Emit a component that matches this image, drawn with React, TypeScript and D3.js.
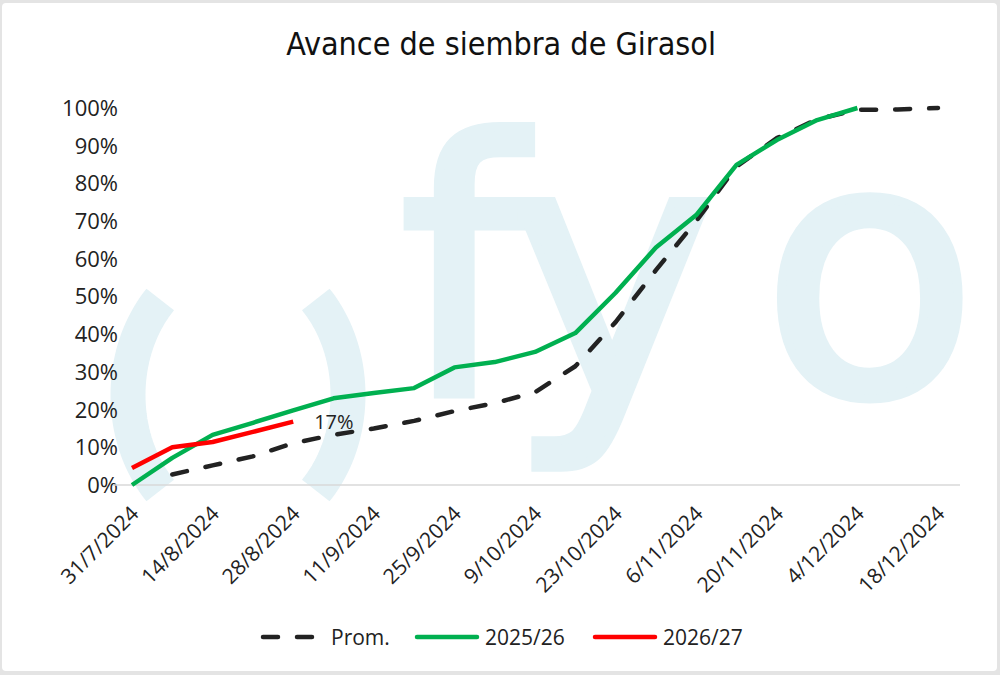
import React from 'react';
import * as d3 from 'd3';

// weekly observations, 31/7/2024 .. 18/12/2024
const weeks = [
  '2024-07-31', '2024-08-07', '2024-08-14', '2024-08-21', '2024-08-28', '2024-09-04', '2024-09-11',
  '2024-09-18', '2024-09-25', '2024-10-02', '2024-10-09', '2024-10-16', '2024-10-23', '2024-10-30',
  '2024-11-06', '2024-11-13', '2024-11-20', '2024-11-27', '2024-12-04', '2024-12-11', '2024-12-18',
];

// % sembrado
const prom = [null, 2.8, 5.2, 7.6, 11.1, 13.3, 15.0, 17.0, 19.6, 21.7, 24.6, 31.5, 43.2, 57.0, 70.0, 84.5, 92.0, 97.0, 99.5, 99.6, 100];
const s2025 = [0, 7.2, 13.3, 16.5, 19.8, 23.0, 24.4, 25.7, 31.2, 32.6, 35.3, 40.3, 51.0, 63.0, 71.6, 84.9, 91.5, 96.8, 100, null, null];
const s2026 = [4.5, 10.0, 11.4, 14.1, 16.8, null, null, null, null, null, null, null, null, null, null, null, null, null, null, null, null];

const tickDates = [
  '2024-07-31', '2024-08-14', '2024-08-28', '2024-09-11', '2024-09-25', '2024-10-09',
  '2024-10-23', '2024-11-06', '2024-11-20', '2024-12-04', '2024-12-18',
];
const yTicks = [0, 10, 20, 30, 40, 50, 60, 70, 80, 90, 100];

const series = [
  { name: 'Prom.', values: prom, color: '#222222', dash: '15 19' },
  { name: '2025/26', values: s2025, color: '#00b050', dash: null },
  { name: '2026/27', values: s2026, color: '#ff0000', dash: null },
];

const W = 1000;
const H = 675;
const FONT = '"Open Sans", "Noto Sans", sans-serif';
const WM = '#e4f2f6';

const parse = d3.timeParse('%Y-%m-%d');
const fmt = d3.timeFormat('%-d/%-m/%Y');

export default function App() {
  const x = d3.scaleTime()
    .domain([parse(weeks[0])!, parse(weeks[weeks.length - 1])!])
    .range([132, 938]);
  const y = d3.scaleLinear().domain([0, 100]).range([485, 108]);

  const line = d3.line<number | null>()
    .defined(d => d != null)
    .x((_, i) => x(parse(weeks[i])!))
    .y(d => y(d as number));

  // watermark parentheses (logo)
  const cx = 238, cy = 395, rx = 110, ry = 135;
  const arcPath = (a0: number, a1: number) => {
    const pts = d3.range(0, 41).map(k => {
      const a = (a0 + (a1 - a0) * k / 40) * Math.PI / 180;
      return [cx + rx * Math.cos(a), cy + ry * Math.sin(a)] as [number, number];
    });
    return d3.line()(pts) || '';
  };

  const lastRedIdx = s2026.reduce((acc, v, i) => (v != null ? i : acc), 0);
  const legendItems = [
    { ...series[0], lx: 263 },
    { ...series[1], lx: 417 },
    { ...series[2], lx: 595 },
  ];

  return (
    <svg width={W} height={H} style={{ position: 'absolute', left: 0, top: 0 }} fontFamily={FONT}>
      <rect x={0} y={0} width={W} height={H} fill="#e4e4e4" />
      <rect x={2} y={3} width={W - 5} height={H - 7} rx={4} fill="#ffffff" />

      {/* watermark */}
      <g>
        <path d={arcPath(135, 225)} fill="none" stroke={WM} strokeWidth={35} />
        <path d={arcPath(-45, 45)} fill="none" stroke={WM} strokeWidth={35} />
        <text y={394} fontFamily="DejaVu Sans" fontSize={352} fill={WM} stroke={WM} strokeWidth={9}>
          <tspan x={400}>f</tspan>
          <tspan x={508}>y</tspan>
          <tspan x={762}>o</tspan>
        </text>
      </g>

      <text x={501} y={55} textAnchor="middle" fontFamily='"Liberation Sans Narrow", "DejaVu Sans Condensed", sans-serif'
        fontSize={32} fill="#111">Avance de siembra de Girasol</text>

      {/* y axis labels */}
      {yTicks.map(t => (
        <text key={t} x={118} y={y(t)} dy="0.36em" textAnchor="end" fontSize={22} fill="#222">{t}%</text>
      ))}

      {/* baseline */}
      <line x1={113} x2={960} y1={y(0)} y2={y(0)} stroke="#d9d9d9" strokeWidth={1.5} />

      {/* x labels */}
      {tickDates.map(d => {
        const px = x(parse(d)!);
        return (
          <text key={d} transform={`translate(${px + 8},${515}) rotate(-45)`} textAnchor="end"
            fontSize={21} fill="#222">{fmt(parse(d)!)}</text>
        );
      })}

      {/* series */}
      {series.map(s => (
        <path key={s.name} d={line(s.values) || ''} fill="none" stroke={s.color} strokeWidth={4.5}
          strokeLinejoin="round" strokeLinecap={s.dash ? 'round' : 'butt'}
          strokeDasharray={s.dash || undefined} />
      ))}

      {/* last value label */}
      <text x={x(parse(weeks[lastRedIdx])!) + 21} y={y(s2026[lastRedIdx] as number)} dy="0.36em"
        fontSize={20} fill="#222">{Math.round(s2026[lastRedIdx] as number)}%</text>

      {/* legend */}
      {legendItems.map(it => (
        <g key={it.name}>
          <line x1={it.lx} x2={it.lx + 60} y1={637} y2={637} stroke={it.color} strokeWidth={4.5}
            strokeLinecap="round" strokeDasharray={it.dash || undefined} />
          <text x={it.lx + 68} y={637} dy="0.36em" fontSize={21} fill="#222">{it.name}</text>
        </g>
      ))}
    </svg>
  );
}
